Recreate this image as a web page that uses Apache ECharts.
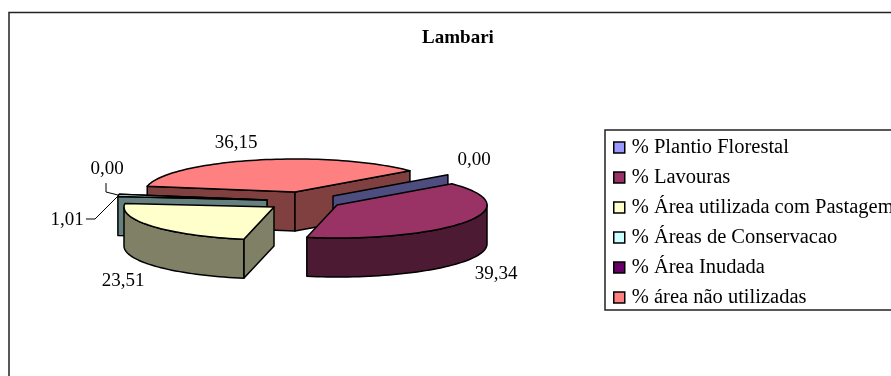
<!DOCTYPE html>
<html>
<head>
<meta charset="utf-8">
<style>html,body{margin:0;padding:0;background:#fff}#chart{width:891px;height:376px}</style>
<script src="https://cdn.jsdelivr.net/npm/echarts@6/dist/echarts.min.js"></script>
</head>
<body>
<div id="chart"></div>
<script>
// Land use shares for Lambari, in legend order
const categories = ['% Plantio Florestal', '% Lavouras', '% Área utilizada com Pastagem',
  '% Áreas de Conservacao', '% Área Inudada', '% área não utilizadas'];
const shares = [0.00, 39.34, 23.51, 1.01, 0.00, 36.15];
const topColors = ['#9999FF', '#993366', '#FFFFCC', '#CCFFFF', '#660066', '#FF8080'];
const sideColors = ['#4D4D80', '#4D1A33', '#808066', '#668080', '#330033', '#804040'];

// Back-to-front painting order of the slices
const paintOrder = [5, 0, 4, 3, 2, 1];

// Tilted pie layout
const SERIF = '"Liberation Serif", "Times New Roman", serif';
const pie = { cx: 295, cy: 192, rx: 150, ry: 33, depth: 39, startAngle: 50 };
const explodeShift = [[38, 4], [42, 13], [-21, 15], [-28, 8], [-28, 8], [0, 0]];
const labelAnchor = [[474, 160], [496, 274], [123, 281], [67, 220], [107, 169], [236, 143]];
const leaderPath = [null, null, null,
  [[86, 219], [95, 219], [118, 196]],
  [[106, 183], [106, 192], [118, 195]],
  null];

const total = shares.reduce((a, b) => a + b, 0);
const sliceSpans = [];
shares.reduce((from, v) => {
  const to = from + v / total * 360;
  sliceSpans.push([from, to]);
  return to;
}, pie.startAngle);

const rad = d => d * Math.PI / 180;

function rimPoint(vertex, angle, drop) {
  return [vertex[0] + pie.rx * Math.sin(rad(angle)),
          vertex[1] - pie.ry * Math.cos(rad(angle)) + drop];
}

function arcPoints(vertex, from, to, drop) {
  const pts = [];
  const steps = Math.max(1, Math.ceil(Math.abs(to - from) / 2));
  for (let i = 0; i <= steps; i++) pts.push(rimPoint(vertex, from + (to - from) * i / steps, drop));
  return pts;
}

function facePolygon(points, fill) {
  return {
    type: 'polygon',
    shape: { points },
    style: { fill, stroke: '#000', lineWidth: 1.5, lineJoin: 'round' }
  };
}

function radialWall(vertex, angle, fill) {
  const v = vertex;
  const r = rimPoint(v, angle, 0);
  return facePolygon([v, r, [r[0], r[1] + pie.depth], [v[0], v[1] + pie.depth]], fill);
}

function drawSlice(index, api) {
  const value = api.value(0);
  const [a0, a1] = sliceSpans[index];
  const vertex = [pie.cx + explodeShift[index][0], pie.cy + explodeShift[index][1]];
  const side = sideColors[index];
  const children = [];

  // Cut faces that turn toward the viewer
  if (Math.sin(rad(a0)) < 0) children.push(radialWall(vertex, a0, side));
  if (Math.sin(rad(a1)) > 0) children.push(radialWall(vertex, a1, side));

  // Rounded outer wall, visible along the front half of the rim
  const wallFrom = Math.max(a0, 90);
  const wallTo = Math.min(a1, 270);
  if (wallTo > wallFrom) {
    const upper = arcPoints(vertex, wallFrom, wallTo, 0);
    const lower = arcPoints(vertex, wallFrom, wallTo, pie.depth).reverse();
    children.push(facePolygon(upper.concat(lower), side));
  }

  // Top face
  if (a1 > a0) children.push(facePolygon([vertex].concat(arcPoints(vertex, a0, a1, 0)), topColors[index]));

  // Leader line and value label
  if (leaderPath[index]) {
    children.push({
      type: 'polyline',
      shape: { points: leaderPath[index] },
      style: { fill: null, stroke: '#000', lineWidth: 1 }
    });
  }
  children.push({
    type: 'text',
    style: {
      x: labelAnchor[index][0],
      y: labelAnchor[index][1],
      text: value.toFixed(2).replace('.', ','),
      font: '19px ' + SERIF,
      fill: '#000',
      align: 'center',
      verticalAlign: 'middle'
    }
  });
  return { type: 'group', children };
}

const chart = echarts.init(document.getElementById('chart'), null, { renderer: 'canvas' });

chart.setOption({
  animation: false,
  backgroundColor: '#fff',
  title: {
    text: 'Lambari',
    left: 453,
    top: 24,
    textAlign: 'center',
    textStyle: { fontFamily: SERIF, fontWeight: 'bold', fontSize: 19, color: '#000' }
  },
  legend: {
    orient: 'vertical',
    left: 605,
    top: 130,
    data: categories,
    icon: 'rect',
    itemWidth: 11,
    itemHeight: 11,
    itemGap: 9,
    padding: [7, 24, 2, 8],
    backgroundColor: '#fff',
    borderColor: '#222',
    borderWidth: 1.5,
    borderRadius: 0,
    selectedMode: false,
    itemStyle: { borderColor: '#000', borderWidth: 1.5 },
    textStyle: { fontFamily: SERIF, fontSize: 20.5, color: '#000', padding: [0, 0, 0, 2] }
  },
  graphic: [{
    type: 'rect',
    silent: true,
    z: -1,
    shape: { x: 9, y: 12.5, width: 1000, height: 500 },
    style: { fill: null, stroke: '#222', lineWidth: 1.5 }
  }],
  series: paintOrder.map(i => ({
    type: 'custom',
    name: categories[i],
    coordinateSystem: 'none',
    silent: true,
    itemStyle: { color: topColors[i] },
    data: [[shares[i]]],
    renderItem: (params, api) => drawSlice(i, api)
  }))
});
</script>
</body>
</html>
